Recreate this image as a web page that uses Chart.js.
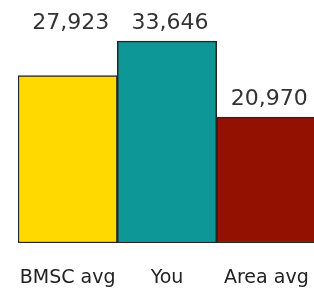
<!DOCTYPE html>
<html>
<head>
<meta charset="utf-8">
<script src="https://cdn.jsdelivr.net/npm/chart.js@4.4.1/dist/chart.umd.min.js"></script>
<style>
  html, body { margin: 0; padding: 0; background: #fff; overflow: hidden; }
  #wrap { width: 316px; height: 292px; }
</style>
</head>
<body>
<div id="wrap"><canvas id="chart"></canvas></div>
<script>
// Data
const categories = ["BMSC avg", "You", "Area avg"];
const values = [27923, 33646, 20970];
const barColors = ["#FFD900", "#0D9797", "#931100"];

// value labels above the bars (first label sits level with its taller neighbour)
const valueLabels = {
    id: "valueLabels",
    afterDatasetsDraw(chart) {
        const ctx = chart.ctx;
        const bars = chart.getDatasetMeta(0).data;
        ctx.save();
        ctx.font = "22px 'DejaVu Sans'";
        ctx.fillStyle = "#333";
        ctx.textAlign = "center";
        ctx.textBaseline = "alphabetic";
        bars.forEach((bar, i) => {
            let top = bar.y;
            if (bars[i + 1]) top = Math.min(top, bars[i + 1].y);
            ctx.fillText(values[i].toLocaleString("en-US"), bar.x + 3, top - 12);
        });
        ctx.restore();
    }
};

new Chart(document.getElementById("chart"), {
    type: "bar",
    data: {
        labels: categories,
        datasets: [{
            data: values,
            backgroundColor: barColors,
            borderColor: "#262626",
            borderWidth: 1.5,
            borderSkipped: false,
            barPercentage: 1,
            categoryPercentage: 1
        }]
    },
    options: {
        responsive: true,
        maintainAspectRatio: false,
        animation: false,
        layout: { padding: { left: 18, right: 0, top: 3, bottom: 2 } },
        plugins: { legend: { display: false }, tooltip: { enabled: false } },
        scales: {
            x: {
                grid: { display: false, drawTicks: false },
                border: { display: false },
                ticks: {
                    color: "#222", padding: 24, maxRotation: 0, minRotation: 0, autoSkip: false,
                    font: { family: "DejaVu Sans", size: 19 }
                },
                afterFit(scale) { scale.paddingLeft = 0; scale.paddingRight = 0; scale.height = 47; }
            },
            y: { display: false, min: 0, max: 40000 }
        }
    },
    plugins: [valueLabels]
});
</script>
</body>
</html>
